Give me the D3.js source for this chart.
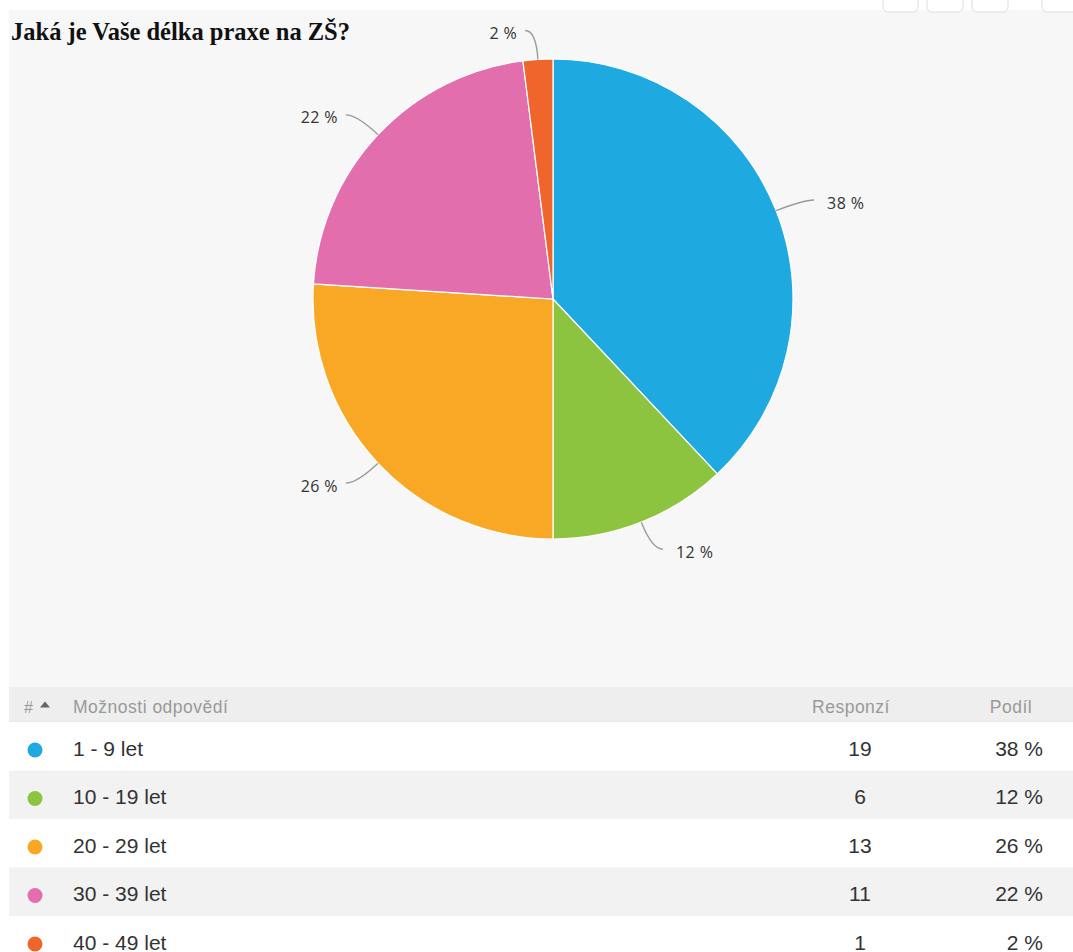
<!DOCTYPE html>
<html lang="cs">
<head>
<meta charset="utf-8">
<title>Jaká je Vaše délka praxe na ZŠ?</title>
<script src="https://cdn.jsdelivr.net/npm/d3@7"></script>
<style>
  html, body { margin: 0; padding: 0; background: #fff; }
  svg { display: block; }
</style>
</head>
<body>
<svg id="chart" width="1073" height="952"></svg>
<script>
// Survey answers: length of teaching practice at primary school
const categories = ["1 - 9 let", "10 - 19 let", "20 - 29 let", "30 - 39 let", "40 - 49 let"];
const responses  = [19, 6, 13, 11, 1];
const shares     = [38, 12, 26, 22, 2];
const colors     = ["#1fa9e1", "#8cc43f", "#f9a825", "#e36ead", "#f0652b"];
const headers    = ["Možnosti odpovědí", "Responzí", "Podíl"];
const title      = "Jaká je Vaše délka praxe na ZŠ?";

const W = 1073, H = 952;
const svg = d3.select("#chart");

// chart panel background
svg.append("rect").attr("x", 9).attr("y", 10).attr("width", W - 9).attr("height", 677).attr("fill", "#f7f7f7");

// toolbar buttons peeking in at the top
[[883, 35], [927, 36], [972, 36], [1042, 40]].forEach(([x, w]) => {
  svg.append("rect").attr("x", x).attr("y", -20).attr("width", w).attr("height", 32)
    .attr("rx", 5).attr("fill", "#fff").attr("stroke", "#dedede");
});

svg.append("text")
  .attr("x", 11).attr("y", 40)
  .attr("font-family", "'Liberation Serif', 'Times New Roman', serif")
  .attr("font-weight", "bold").attr("font-size", 24.5).attr("fill", "#111")
  .text(title);

// pie
const cx = 553, cy = 299, R = 240;
const pie = d3.pie().sort(null).value(d => d.value);
const data = categories.map((c, i) => ({ name: c, value: responses[i], share: shares[i], color: colors[i] }));
const arcs = pie(data);
const arc = d3.arc().innerRadius(0).outerRadius(R);

const g = svg.append("g").attr("transform", `translate(${cx},${cy})`);
g.selectAll("path.slice").data(arcs).join("path")
  .attr("class", "slice")
  .attr("d", arc)
  .attr("fill", d => d.data.color)
  .attr("stroke", "#fff").attr("stroke-width", 1.2);

// leader lines and labels
const polar = (a, r) => [r * Math.sin(a), -r * Math.cos(a)];
arcs.forEach(d => {
  const mid = (d.startAngle + d.endAngle) / 2;
  const right = Math.sin(mid) >= 0;
  const A = polar(mid, R);
  const B = polar(mid, R + 29);
  const C = [B[0] + (right ? 11 : -11), B[1]];
  g.append("path")
    .attr("d", `M${A[0]},${A[1]} Q${B[0]},${B[1]} ${C[0]},${C[1]}`)
    .attr("fill", "none").attr("stroke", "#9a9a9a").attr("stroke-width", 1.4);
  g.append("text")
    .attr("x", C[0] + (right ? 13 : -8)).attr("y", C[1] + 3)
    .attr("dy", "0.35em")
    .attr("text-anchor", right ? "start" : "end")
    .attr("font-family", "'Open Sans', 'Noto Sans', sans-serif")
    .attr("font-size", 16).attr("letter-spacing", 0.4).attr("fill", "#333")
    .text(d.data.share + " %");
});

// table
const tableTop = 687, headH = 35, rowH = 48.5;
const font = "'Liberation Sans', Arial, sans-serif";
svg.append("rect").attr("x", 9).attr("y", tableTop).attr("width", W - 9).attr("height", headH).attr("fill", "#eeeeee");
svg.append("line").attr("x1", 9).attr("x2", W).attr("y1", tableTop + headH).attr("y2", tableTop + headH)
  .attr("stroke", "#e2e2e2");

const hBase = tableTop + 25.5;
svg.append("text").attr("x", 24).attr("y", hBase)
  .attr("font-family", font).attr("font-size", 16).attr("fill", "#999").text("#");
svg.append("path").attr("d", `M40,${hBase - 5} L45,${hBase - 11} L50,${hBase - 5} Z`).attr("fill", "#666");
const headText = (x, anchor, t) => svg.append("text").attr("x", x).attr("y", hBase)
  .attr("text-anchor", anchor)
  .attr("font-family", font).attr("font-size", 17.5).attr("letter-spacing", 0.5).attr("fill", "#999").text(t);
headText(73, "start", headers[0]);
headText(851, "middle", headers[1]);
headText(1011, "middle", headers[2]);

const rows = svg.append("g").selectAll("g").data(data).join("g")
  .attr("transform", (d, i) => `translate(0,${tableTop + headH + i * rowH})`);
rows.append("rect").attr("x", 9).attr("width", W - 9).attr("height", rowH)
  .attr("fill", (d, i) => i % 2 ? "#f2f2f2" : "#ffffff");
rows.append("circle").attr("cx", 35).attr("cy", 28).attr("r", 7.5).attr("fill", d => d.color);
const cell = (x, anchor, fn) => rows.append("text").attr("x", x).attr("y", 33.5)
  .attr("text-anchor", anchor)
  .attr("font-family", font).attr("font-size", 21).attr("fill", "#333").text(fn);
cell(73, "start", d => d.name);
cell(860, "middle", d => d.value);
cell(1043, "end", d => d.share + " %");
</script>
</body>
</html>
